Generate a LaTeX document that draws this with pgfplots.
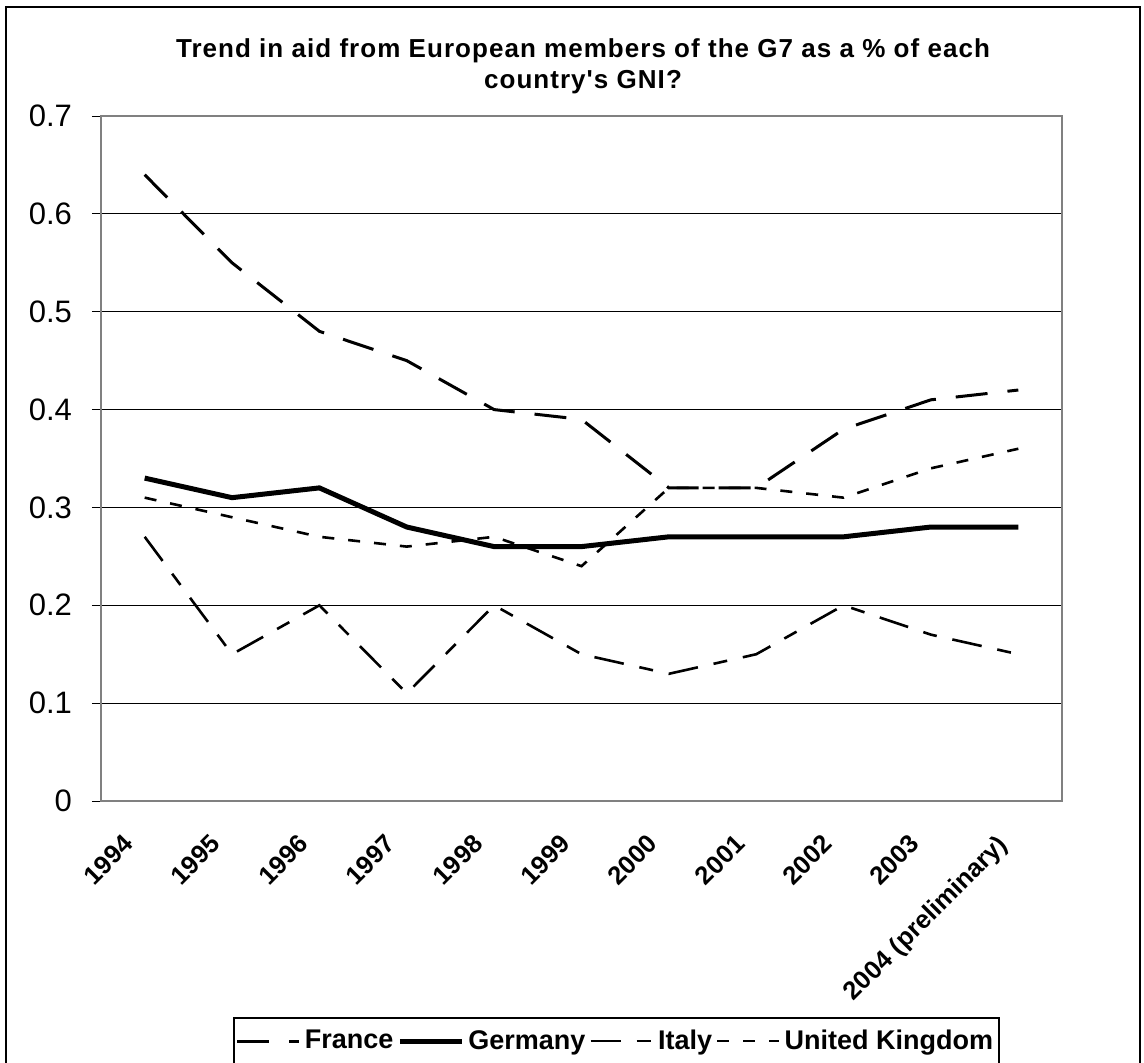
\documentclass[border=0pt]{standalone}
\usepackage{fontspec}
\setmainfont{Liberation Sans}
\newfontfamily\titlefont[LetterSpace=4]{Liberation Sans}
\usepackage{pgfplots}
\pgfplotsset{compat=1.18}
\begin{document}
\begin{tikzpicture}
\path[use as bounding box] (0,0) rectangle (572pt,-531pt);
\draw[line width=0.9pt] (3pt,-3.5pt) rectangle (570pt,-545pt);
\node[anchor=base, font=\titlefont\bfseries\fontsize{13}{15}\selectfont, inner sep=0pt] at (291.5pt,-28.5pt) {Trend in aid from European members of the G7 as a \% of each};
\node[anchor=base, font=\titlefont\bfseries\fontsize{13}{15}\selectfont, inner sep=0pt] at (291.5pt,-44pt) {country's GNI?};
\begin{axis}[
  at={(50.5pt,-400.5pt)}, anchor=south west,
  scale only axis, width=480.5pt, height=342.5pt,
  xmin=0, xmax=11, ymin=0, ymax=0.7,
  axis line style={draw=black!50, line width=1pt},
  tick align=outside,
  xtick pos=bottom, ytick pos=left,
  xtick={0.5,1.5,2.5,3.5,4.5,5.5,6.5,7.5,8.5,9.5,10.5},
  xticklabels={1994,1995,1996,1997,1998,1999,2000,2001,2002,2003,2004 (preliminary)},
  minor xtick={0,1,2,3,4,5,6,7,8,9,10,11},
  xtick style={draw=none},
  minor tick length=3pt,
  major tick length=4.5pt,
  tick style={black, line width=0.5pt},
  ytick={0,0.1,0.2,0.3,0.4,0.5,0.6,0.7},
  yticklabels={0,0.1,0.2,0.3,0.4,0.5,0.6,0.7},
  yticklabel style={font=\fontsize{15.5}{18}\selectfont, xshift=-6.5pt},
  xticklabel style={font=\bfseries\fontsize{12.8}{15}\selectfont, rotate=45, anchor=north east, inner sep=2pt, xshift=-14pt, yshift=2pt},
  ymajorgrids, major grid style={black, line width=0.5pt},
  legend style={at={(0.1374,-0.3153)}, anchor=north west, draw=black, line width=0.8pt,
    font=\bfseries\fontsize{13.5}{16}\selectfont, inner xsep=1pt, inner ysep=4pt,
    nodes={inner sep=2pt}},
  legend columns=-1,
  legend image code/.code={\draw[#1] (0pt,0pt) -- (31pt,0pt);},
]
\addplot[black, line width=1.5pt, dash pattern=on 16pt off 10pt] coordinates {
(0.5,0.64) (1.5,0.55) (2.5,0.48) (3.5,0.45) (4.5,0.40) (5.5,0.39) (6.5,0.32) (7.5,0.32) (8.5,0.38) (9.5,0.41) (10.5,0.42)};
\addlegendentry{France}
\addplot[black, line width=2.5pt] coordinates {
(0.5,0.33) (1.5,0.31) (2.5,0.32) (3.5,0.28) (4.5,0.26) (5.5,0.26) (6.5,0.27) (7.5,0.27) (8.5,0.27) (9.5,0.28) (10.5,0.28)};
\addlegendentry{Germany}
\addplot[black, line width=1.3pt, dash pattern=on 15pt off 8pt on 7pt off 8pt] coordinates {
(0.5,0.27) (1.5,0.15) (2.5,0.20) (3.5,0.11) (4.5,0.20) (5.5,0.15) (6.5,0.13) (7.5,0.15) (8.5,0.20) (9.5,0.17) (10.5,0.15)};
\addlegendentry{Italy}
\addplot[black, line width=1.3pt, dash pattern=on 6pt off 7pt] coordinates {
(0.5,0.31) (1.5,0.29) (2.5,0.27) (3.5,0.26) (4.5,0.27) (5.5,0.24) (6.5,0.32) (7.5,0.32) (8.5,0.31) (9.5,0.34) (10.5,0.36)};
\addlegendentry{United Kingdom}
\end{axis}
\end{tikzpicture}
\end{document}
